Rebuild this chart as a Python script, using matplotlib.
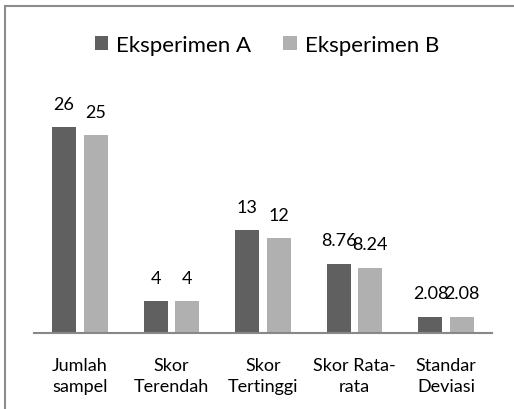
import matplotlib.pyplot as plt
import numpy as np
from matplotlib.patches import Rectangle

categories = ['Jumlah\nsampel', 'Skor\nTerendah', 'Skor\nTertinggi', 'Skor Rata-\nrata', 'Standar\nDeviasi']
eksperimen_a = [26, 4, 13, 8.76, 2.08]
eksperimen_b = [25, 4, 12, 8.24, 2.08]
labels_a = ['26', '4', '13', '8.76', '2.08']
labels_b = ['25', '4', '12', '8.24', '2.08']

plt.rcParams['font.family'] = ['Lato', 'DejaVu Sans']

fig = plt.figure(figsize=(5.14, 4.10), dpi=100)
ax = fig.add_axes([34/514, 1 - 334/410, (492 - 34)/514, (334 - 96.4)/410])

x = np.arange(len(categories))
w = 0.262
off = 0.172
ba = ax.bar(x - off, eksperimen_a, w, color='#606060', label='Eksperimen A')
bb = ax.bar(x + off, eksperimen_b, w, color='#b0b0b0', label='Eksperimen B')

# value labels above the bars (the two 2.08 labels touch, as in the original)
for rect, lab in zip(ba, labels_a):
    ax.annotate(lab, (rect.get_x() + rect.get_width()/2, rect.get_height()),
                xytext=(0, 11), textcoords='offset points', ha='center', va='bottom', fontsize=13)
for rect, lab in zip(bb, labels_b):
    ax.annotate(lab, (rect.get_x() + rect.get_width()/2, rect.get_height()),
                xytext=(0, 11), textcoords='offset points', ha='center', va='bottom', fontsize=13)

ax.set_xlim(-0.5, len(categories) - 0.5)
ax.set_ylim(0, 30)
ax.set_xticks(x)
ax.set_xticklabels(categories, fontsize=13, linespacing=1.4)
ax.tick_params(axis='x', length=0, pad=17)
ax.set_yticks([])
for s in ['top', 'right', 'left']:
    ax.spines[s].set_visible(False)
ax.spines['bottom'].set_color('#888888')
ax.spines['bottom'].set_linewidth(1.5)

fig.legend(loc='center', bbox_to_anchor=(267/514, 1 - 46/410), ncol=2, frameon=False,
           fontsize=16, handlelength=0.6, handleheight=0.6, handletextpad=0.37, columnspacing=1.45)

# outer frame (only top and left edges visible)
fig.patches.append(Rectangle((5/514, -0.1), 1.2, 1 - 7/410 + 0.1, transform=fig.transFigure,
                             fill=False, edgecolor='#8c8c8c', linewidth=1.5))

fig.savefig('out.png', dpi=100)
